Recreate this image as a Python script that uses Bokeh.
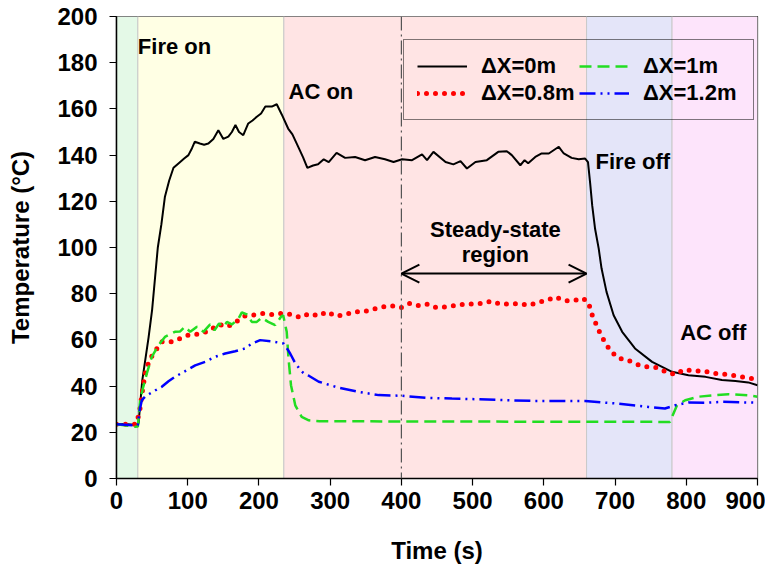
from bokeh.plotting import figure
from bokeh.models import (Legend, LegendItem, Label, Span, Arrow, OpenHead, FixedTicker)
from bokeh.embed import file_html
from bokeh.resources import INLINE

# ---------------- data ----------------
region_left = [0, 30, 235, 660, 780]
region_right = [30, 235, 660, 780, 900]
region_colors = ["#e4f9e7", "#ffffe4", "#ffe4e4", "#e4e5f9", "#fde4fb"]

t_0m = [0, 10, 20, 28, 31, 36, 45, 50, 58, 63, 68, 74, 80, 87, 95, 101, 106, 110, 117, 123, 129, 136,
        143, 150, 157, 162, 167, 172, 178, 185, 191, 197, 203, 209, 218, 225, 232, 241, 247, 256,
        262, 268, 276, 283, 291, 298, 309, 321, 335, 349, 363, 377, 389, 401, 415, 429, 436, 445,
        462, 473, 483, 492, 504, 520, 536, 548, 555, 567, 573, 578, 588, 597, 607, 621, 628, 639,
        649, 658, 662, 665, 668, 672, 677, 681, 688, 698, 710, 728, 752, 780, 803, 827, 850, 869,
        887, 900]
T_0m = [23.5, 23.6, 23.4, 23.2, 24, 42, 61, 73, 100, 110, 122, 129, 134.5, 136.4, 138.5, 140, 143,
        145.8, 145, 144.5, 145, 147, 150.8, 147, 148, 150, 153, 150, 148.6, 153.7, 155, 156.6, 158,
        161, 161, 162, 157.6, 151.5, 149, 143, 139, 134.5, 135.5, 136, 138.2, 137, 141, 138.8,
        139.2, 137.8, 139.2, 138.2, 137, 138.2, 137.8, 140.3, 137.8, 141.4, 137, 136, 137.4, 134.2,
        137, 137.8, 141.4, 141.7, 140, 135.6, 137.8, 136.5, 139.2, 140.7, 140.7, 143.6, 140.7,
        138.8, 138.2, 138.5, 137, 128, 118, 108, 99.6, 91, 80.8, 70.7, 63.5, 56.3, 50.5, 46.2,
        44.7, 44, 42.6, 42.2, 41.6, 40.4]

t_08m = [0, 28, 30, 33, 36.5, 40, 46, 54, 63.6, 77, 89, 102.5, 116, 130, 143, 156, 167.5, 180, 192,
         205, 218, 231, 245, 258, 271, 284, 295, 308, 321, 334, 347, 360, 373, 386, 399, 412, 425,
         437, 449, 461, 474, 488, 500, 513, 526, 539, 552, 565, 579, 591, 603, 616, 629, 642, 655,
         663, 666, 672, 678, 685, 693, 704, 718, 731, 745, 758, 771, 784, 797, 811, 825, 838, 851,
         865, 878, 892, 900]
T_08m = [23.5, 23.5, 26, 30.3, 38.2, 45, 51.2, 55, 59.2, 59.2, 60.6, 62.3, 62.5, 63.9, 66.7, 65.7,
         67.8, 70.3, 70.7, 71.4, 71, 71.4, 71, 69.7, 71.4, 70.4, 72.2, 70.3, 71, 72.2, 72.2, 73.3,
         74.3, 74.8, 73.9, 75.8, 74.8, 75.5, 74, 74.3, 74.8, 75.5, 75.5, 75.8, 76.8, 75.5, 75.5,
         75.8, 75, 76.2, 77, 78.6, 77, 77, 78, 76, 72.2, 67.8, 63.6, 59.4, 55.5, 52.2, 51.2, 49.4,
         48.3, 48, 46.2, 45, 47.2, 46.6, 46.5, 45.5, 45.2, 44.7, 44, 43.3, 42.8]

t_1m = [0, 26, 30, 33, 37, 42.6, 49.6, 59, 68, 82, 89, 96, 103.5, 113, 122, 131.5, 137.6, 144, 150.5,
        155, 162, 171, 176, 183, 190, 197, 204, 213, 222.8, 231, 234, 239, 241.5, 245, 251, 260,
        270, 285, 400, 777, 787, 798.5, 817, 840.6, 859, 887, 900]
T_1m = [23.5, 22.4, 22.5, 33.2, 39, 45.5, 52.7, 57.7, 61.3, 63.5, 63.6, 65.7, 63.5, 65.7, 63.5, 66.7,
        64.2, 67.1, 65.7, 67.8, 66.7, 69, 71.9, 71, 67.8, 67.8, 69.6, 67.8, 66.4, 70, 70.7, 63.5, 52,
        40.4, 31.7, 26.7, 25.2, 24.8, 24.7, 24.5, 31.7, 33.9, 35.4, 36.1, 36.5, 36, 35.4]

t_12m = [0, 26, 30, 33, 35.6, 40, 47, 54.8, 63.6, 73, 82, 96.4, 110.5, 124.6, 138.6, 152.6, 166.6,
         180.6, 190, 201.7, 218, 234.5, 240, 244, 250, 258, 263, 270, 284, 312, 340, 368, 401, 438,
         471, 508, 546, 583, 621, 658, 700, 747, 770, 784.5, 803, 827, 850, 900]
T_12m = [23.5, 23, 23.2, 30.3, 33.9, 35.4, 36.8, 38.2, 39.7, 42.1, 44, 46.5, 49, 50.5, 52.7, 54.1,
         55.1, 56.3, 58.4, 59.9, 59.4, 58.4, 56, 54, 50.5, 47, 45.5, 44.5, 41.9, 39.3, 37.5, 36.1,
         35.8, 34.9, 34.6, 34.3, 33.9, 33.6, 33.6, 33.5, 32.5, 31, 30.3, 31.7, 32.9, 32.8, 33.2,
         32.8]

x_ticks = [0, 100, 200, 300, 400, 500, 600, 700, 800, 900]
y_ticks = [0, 20, 40, 60, 80, 100, 120, 140, 160, 180, 200]

steady_start, steady_end, steady_y = 400, 660, 88.7

FONT = "Liberation Sans"

p = figure(width=765, height=572, x_range=(0, 900), y_range=(0, 200),
           output_backend="svg", toolbar_location=None,
           min_border_left=116, min_border_right=8, min_border_top=16, min_border_bottom=94)
p.background_fill_color = "white"
p.border_fill_color = "white"
p.outline_line_color = "black"
p.outline_line_width = 1.2
p.grid.visible = False

# bands
p.quad(left=region_left, right=region_right, bottom=0, top=200,
       fill_color=region_colors, line_color="#c9c9c9", line_width=1)

# steady-state marker line
p.add_layout(Span(location=steady_start, dimension="height", line_color="#555555",
                  line_width=1.2, line_dash="14 4 2 4"))

r0 = p.line(t_0m, T_0m, line_color="black", line_width=2)
r08 = p.line(t_08m, T_08m, line_color="#ff0000", line_width=5, line_dash="0 9",
             line_cap="round")
r1 = p.line(t_1m, T_1m, line_color="#22dd22", line_width=2.5, line_dash="12 6")
r12 = p.line(t_12m, T_12m, line_color="#0000ff", line_width=2.5, line_dash="16 5 2 5 2 5")

# axes
for ax in (p.xaxis[0], p.yaxis[0]):
    ax.axis_line_color = "black"
    ax.axis_line_width = 1.5
    ax.major_tick_line_color = "black"
    ax.major_tick_line_width = 1.2
    ax.major_tick_in = 0
    ax.major_tick_out = 7
    ax.minor_tick_line_color = None
    ax.major_label_text_font = FONT
    ax.major_label_text_font_style = "bold"
    ax.major_label_text_font_size = "24px"
    ax.major_label_text_color = "black"
    ax.axis_label_text_font = FONT
    ax.axis_label_text_font_style = "bold"
    ax.axis_label_text_font_size = "24px"
    ax.axis_label_text_color = "black"

p.xaxis.ticker = FixedTicker(ticks=x_ticks)
p.yaxis.ticker = FixedTicker(ticks=y_ticks)
p.xaxis.axis_label = "Time (s)"
p.yaxis.axis_label = "Temperature (°C)"
p.xaxis.major_label_standoff = 6
p.yaxis.major_label_standoff = 12
p.xaxis.axis_label_standoff = 25
p.yaxis.axis_label_standoff = 20

# annotations
def lab(x, y, text, align="left"):
    p.add_layout(Label(x=x, y=y, text=text, text_font=FONT, text_font_style="bold",
                       text_font_size="22px", text_color="black", text_baseline="middle",
                       text_align=align))

lab(30, 186.8, "Fire on")
lab(241.5, 167.7, "AC on")
lab(672.6, 137.2, "Fire off")
lab(791.5, 63.2, "AC off")
lab(532, 107.8, "Steady-state", "center")
lab(532, 97.0, "region", "center")

p.add_layout(Arrow(start=OpenHead(size=18, line_width=2, line_color="black"),
                   end=OpenHead(size=18, line_width=2, line_color="black"),
                   x_start=steady_start, x_end=steady_end, y_start=steady_y, y_end=steady_y,
                   line_width=2, line_color="black"))

legend = Legend(items=[LegendItem(label="ΔX=0m", renderers=[r0]),
                       LegendItem(label="ΔX=0.8m", renderers=[r08]),
                       LegendItem(label="ΔX=1m", renderers=[r1]),
                       LegendItem(label="ΔX=1.2m", renderers=[r12])],
                ncols=2, location=(287, 358), padding=13, spacing=1,
                glyph_width=50, glyph_height=26, label_standoff=14, label_width=97,
                label_text_font=FONT, label_text_font_style="bold",
                label_text_font_size="22px", label_text_color="black",
                border_line_color="black", border_line_width=1.2,
                background_fill_alpha=0, margin=0)
p.add_layout(legend, "center")

open("out.html", "w").write(file_html(p, INLINE))
